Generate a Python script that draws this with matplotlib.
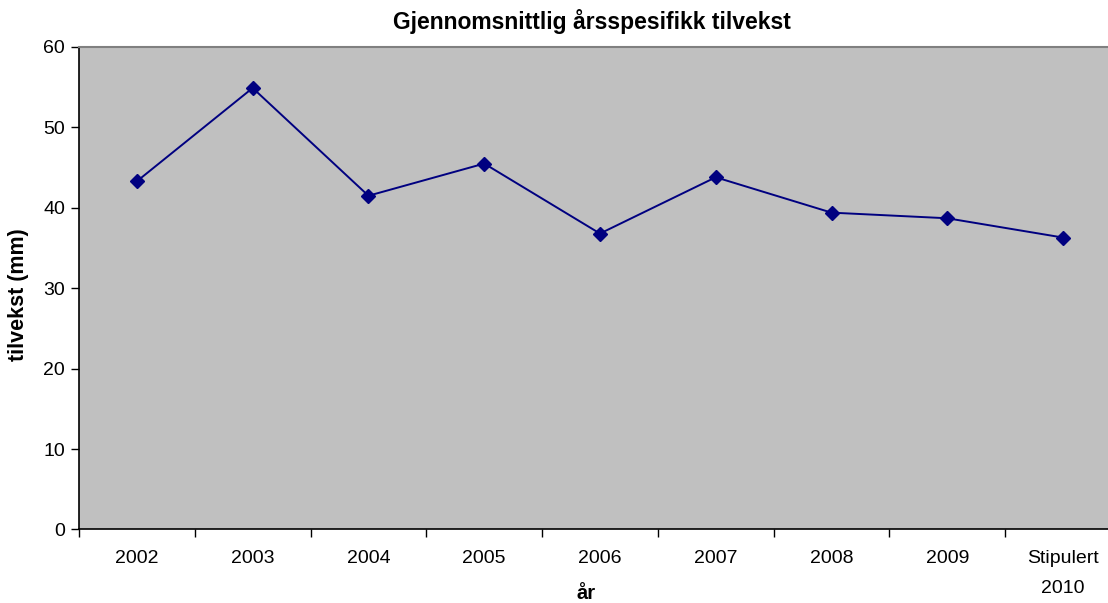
import matplotlib
matplotlib.use("Agg")
import matplotlib.pyplot as plt
import numpy as np

# Data
years = ["2002", "2003", "2004", "2005", "2006", "2007", "2008", "2009", "Stipulert\n2010"]
growth = [43.3, 54.9, 41.5, 45.5, 36.8, 43.8, 39.4, 38.7, 36.3]
yticks = [0, 10, 20, 30, 40, 50, 60]

plt.rcParams["font.family"] = ["Liberation Sans", "DejaVu Sans"]

fig = plt.figure(figsize=(11.08, 6.03), dpi=100)
# plot area runs past the right edge in the original
ax = fig.add_axes([0.0713, 0.1219, 0.9404, 0.8002])
ax.set_facecolor("#C0C0C0")

x = np.arange(len(years))
ax.plot(x, growth, color="#000080", linewidth=1.4, marker="D", markersize=7.5,
        markerfacecolor="#000080", markeredgecolor="#000080")

ax.set_xlim(-0.5, len(years) - 0.5)
ax.set_ylim(0, 60)
ax.set_yticks(yticks)
ax.tick_params(axis="y", direction="out", length=6, width=1, labelsize=14, pad=4)

# category labels centered, tick marks between categories
ax.set_xticks(x)
ax.set_xticklabels(years, fontsize=14, linespacing=2.0)
ax.set_xticks(np.arange(-0.5, len(years)), minor=True)
ax.tick_params(axis="x", which="major", length=0, pad=15)
ax.tick_params(axis="x", which="minor", direction="out", length=6, width=1)

ax.spines["right"].set_visible(False)
ax.spines["top"].set_color("#808080")
ax.spines["top"].set_linewidth(1.5)
ax.spines["left"].set_linewidth(1.2)
ax.spines["bottom"].set_linewidth(1.2)

fig.text(0.534, 0.965, "Gjennomsnittlig årsspesifikk tilvekst", ha="center", va="center",
         fontsize=16.5, fontweight="bold")
fig.text(0.017, 0.511, "tilvekst (mm)", rotation=90, ha="center", va="center",
         fontsize=15.5, fontweight="bold")
fig.text(0.529, 0.016, "år", ha="center", va="center", fontsize=14.5, fontweight="bold")

fig.savefig("out.png", dpi=100)
